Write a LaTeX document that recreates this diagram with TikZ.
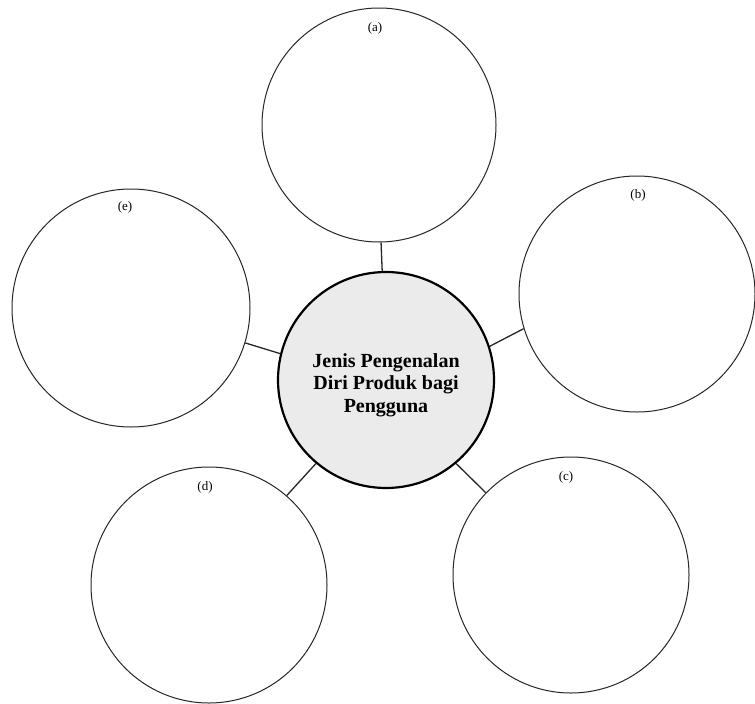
\documentclass[tikz,border=0pt]{standalone}
\usepackage{fontspec}
\setmainfont{Liberation Serif}
\begin{document}
\begin{tikzpicture}[x=1pt,y=-1pt,
  outer/.style={circle,draw=black!85,line width=1pt,inner sep=0pt,fill=white},
  hub/.style={circle,draw=black,line width=2.2pt,inner sep=0pt,fill=black!8},
  hubtext/.style={align=center,font=\fontsize{20}{22.5}\selectfont\bfseries},
  link/.style={draw=black!85,line width=1.3pt},
  tag/.style={font=\fontsize{13}{13}\selectfont}]
\useasboundingbox (0,0) rectangle (755,704);
\node[hub,minimum size=216pt] (hub) at (386,380) {};
\node[hubtext] (title) at (386,385) {Jenis Pengenalan\\Diri Produk bagi\\Pengguna};
\node[outer,minimum size=234pt] (a) at (379,125) {};
\node[outer,minimum size=236pt] (b) at (637,294) {};
\node[outer,minimum size=236pt] (c) at (571,575) {};
\node[outer,minimum size=236pt] (d) at (209,585) {};
\node[outer,minimum size=238pt] (e) at (131,308) {};
\node[tag] (la) at (375,28) {(a)};
\node[tag] (lb) at (638,195) {(b)};
\node[tag] (lc) at (566,477) {(c)};
\node[tag] (ld) at (205,487) {(d)};
\node[tag] (le) at (125,207) {(e)};
\draw[link] (hub.92) -- (a.271);
\draw[link] (hub.18) -- (b.197);
\draw[link] (hub.310) -- (c.136);
\draw[link] (hub.230) -- (d.49);
\draw[link] (hub.166) -- (e.343);
\end{tikzpicture}
\end{document}
